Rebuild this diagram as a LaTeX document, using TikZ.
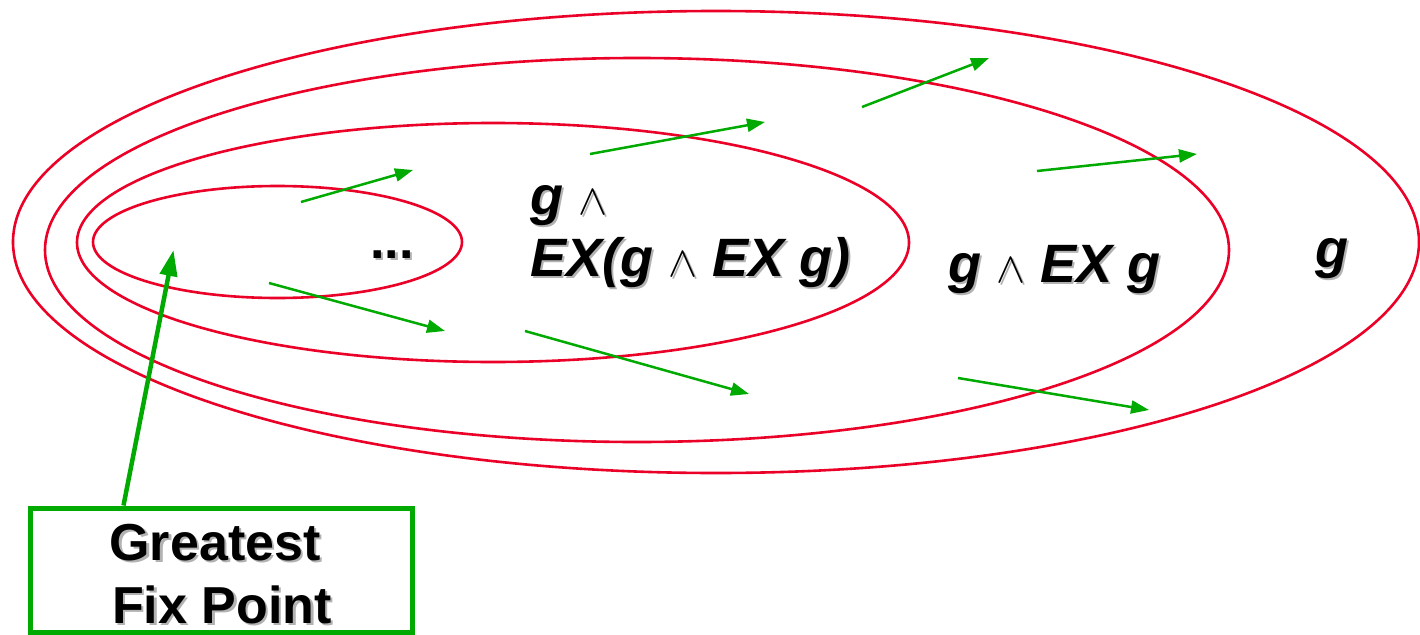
\documentclass[tikz,border=0pt]{standalone}
\usepackage{fontspec}
\usepackage{graphicx}
\setmainfont{Liberation Sans}
\usetikzlibrary{arrows.meta,calc}
\definecolor{ellred}{RGB}{235,0,40}
\definecolor{arrgreen}{RGB}{0,170,0}
\tikzset{
  ring/.style={draw=ellred, line width=2.6pt},
  trans/.style={draw=arrgreen, line width=2.5pt, -{Triangle[length=18pt,width=13pt]}},
  bigarrow/.style={draw=arrgreen, line width=4.5pt, -{Triangle[length=26pt,width=17pt]}},
  lbl/.style={font=\fontsize{54}{62}\selectfont\bfseries\itshape, inner sep=0pt, anchor=base west},
  boxlbl/.style={font=\fontsize{52}{62}\selectfont\bfseries, inner sep=0pt, anchor=base},
  shadowtxt/.style={text=black!30},
  fpbox/.style={draw=arrgreen, line width=5pt, fill=white, minimum width=382pt, minimum height=124pt, inner sep=0pt},
}
\newcommand\andop{\resizebox{29pt}{24pt}{$\wedge$}}
\newcommand\shtext[4]{%
  \node[#1,shadowtxt] (#2s) at ($(#3)+(2.5,2.5)$) {#4};
  \node[#1] (#2) at (#3) {#4};}
\begin{document}
\begin{tikzpicture}[x=1pt,y=-1pt]
\useasboundingbox (0,0) rectangle (1420,634);
% nested sets
\draw[ring] (716,242) ellipse [x radius=703, y radius=231];
\draw[ring] (637,250) ellipse [x radius=592, y radius=192];
\draw[ring] (493,242.5) ellipse [x radius=416, y radius=119.5];
\draw[ring] (277.5,242) ellipse [x radius=184.5, y radius=56];
% transitions
\coordinate (a1s) at (301,202);  \coordinate (a1e) at (413,170);
\coordinate (a2s) at (590,154);  \coordinate (a2e) at (765,122);
\coordinate (a3s) at (862,107);  \coordinate (a3e) at (989,58);
\coordinate (a4s) at (1037,171); \coordinate (a4e) at (1197,154);
\coordinate (a5s) at (269,283);  \coordinate (a5e) at (445,331);
\coordinate (a6s) at (525,331);  \coordinate (a6e) at (749,394);
\coordinate (a7s) at (958,378);  \coordinate (a7e) at (1149,410);
\draw[trans] (a1s) -- (a1e);
\draw[trans] (a2s) -- (a2e);
\draw[trans] (a3s) -- (a3e);
\draw[trans] (a4s) -- (a4e);
\draw[trans] (a5s) -- (a5e);
\draw[trans] (a6s) -- (a6e);
\draw[trans] (a7s) -- (a7e);
% labels
\shtext{lbl}{t1}{530,214}{g \andop}
\shtext{lbl}{t2}{530,276}{EX(g \andop\ EX g)}
\shtext{lbl}{t3}{948,282}{g \andop\ EX g}
\shtext{lbl}{t4}{1315,267}{g}
\shtext{lbl,font=\fontsize{52}{62}\selectfont\bfseries}{t5}{370,258}{...}
% greatest fix point
\node[fpbox] (box) at (221,570) {};
\shtext{boxlbl}{g1}{215,560}{Greatest}
\shtext{boxlbl}{g2}{222,623}{Fix Point}
\coordinate (fp) at (173.5,250);
\draw[bigarrow] ([xshift=96pt]box.north west) -- (fp);
\end{tikzpicture}
\end{document}
